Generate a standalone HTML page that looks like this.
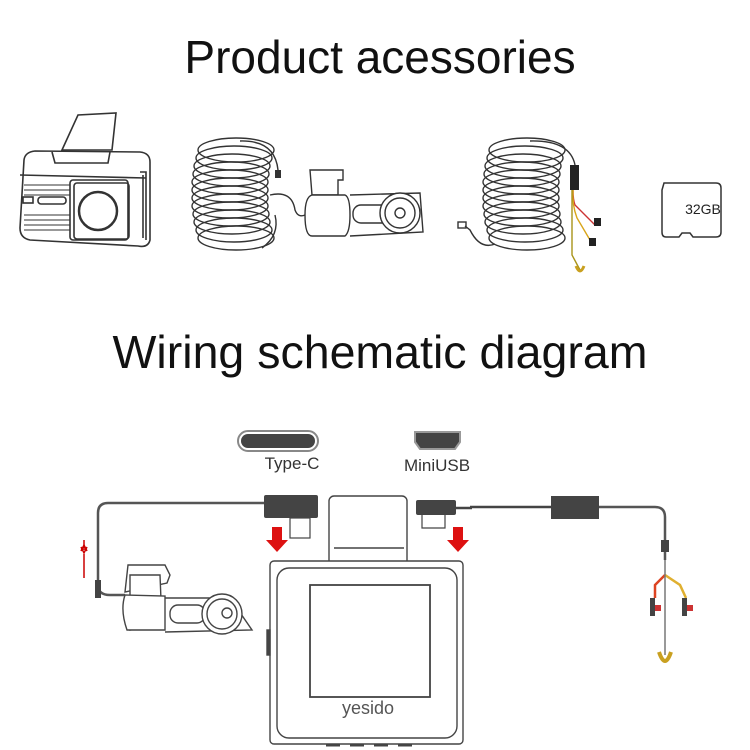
<!DOCTYPE html>
<html><head><meta charset="utf-8"><style>
html,body{margin:0;padding:0;background:#fff;}
svg{display:block}
</style></head><body>
<svg width="750" height="750" viewBox="0 0 750 750" xmlns="http://www.w3.org/2000/svg" font-family="Liberation Sans, sans-serif">
<rect width="750" height="750" fill="#fff"/>
<text x="380" y="73" font-size="46" text-anchor="middle" fill="#111">Product acessories</text>
<text x="380" y="368" font-size="46.5" text-anchor="middle" fill="#111">Wiring schematic diagram</text>

<!-- Dash cam top-left -->
<g fill="none" stroke="#333" stroke-width="1.6">
<path d="M62 150 L78 115 L116 113 L112 150 Z" fill="#fff"/>
<path d="M24 160 Q25 152 35 151 L140 152 Q150 153 150 162 L150 240 Q148 248 138 246 L30 240 Q20 238 20 228 Z" fill="#fff"/>
<path d="M52 152 L55 163 L108 163 L110 152"/>
<path d="M20 175 L146 178"/>
<rect x="70" y="180" width="58" height="60" rx="3"/>
<rect x="74" y="183" width="55" height="56" rx="3"/>
<circle cx="98" cy="211" r="19" stroke-width="2.5"/>
<path d="M24 185 H70 M24 190 H70 M24 195 H70 M24 215 H70 M24 220 H70 M24 225 H70 M24 230 H70" stroke-width="1"/>
<rect x="23" y="197" width="10" height="6"/><rect x="38" y="197" width="28" height="7" rx="3"/>
<path d="M140 172 L146 172 L146 240 M143 175 V238"/>
</g>

<!-- coil 1 -->
<g fill="none" stroke="#333" stroke-width="1.4">
<ellipse cx="236" cy="150" rx="38" ry="12"/><ellipse cx="234" cy="158" rx="38" ry="12"/><ellipse cx="232" cy="166" rx="38" ry="12"/><ellipse cx="231" cy="174" rx="38" ry="12"/><ellipse cx="230" cy="182" rx="38" ry="12"/><ellipse cx="230" cy="190" rx="38" ry="12"/><ellipse cx="230" cy="198" rx="38" ry="12"/><ellipse cx="230" cy="206" rx="38" ry="12"/><ellipse cx="231" cy="214" rx="38" ry="12"/><ellipse cx="232" cy="222" rx="38" ry="12"/><ellipse cx="234" cy="230" rx="38" ry="12"/><ellipse cx="236" cy="238" rx="38" ry="12"/>
<path d="M240 141 Q275 140 278 170 L278 172"/>
<path d="M270 195 Q292 190 295 210 Q298 218 305 215"/>
<path d="M275 215 Q280 235 262 248"/>
</g>
<rect x="275" y="170" width="6" height="8" fill="#333"/>
<!-- rear cam 1 -->
<g fill="none" stroke="#333" stroke-width="1.4">
<path d="M310 170 L343 170 L343 180 L338 180 L338 195 L312 195 Z" fill="#fff"/>
<path d="M312 195 Q305 197 305 215 Q305 236 312 236 L345 236 Q350 232 350 215 Q350 197 345 195 Z" fill="#fff"/>
<path d="M350 195 L420 193 L423 232 L350 236"/>
<rect x="353" y="205" width="40" height="18" rx="8"/>
<circle cx="400" cy="213" r="20" fill="#fff"/>
<circle cx="400" cy="213" r="15"/>
<circle cx="400" cy="213" r="5"/>
</g>

<!-- coil 2 -->
<g fill="none" stroke="#333" stroke-width="1.4">
<ellipse cx="527" cy="150" rx="38" ry="12"/><ellipse cx="525" cy="158" rx="38" ry="12"/><ellipse cx="523" cy="166" rx="38" ry="12"/><ellipse cx="522" cy="174" rx="38" ry="12"/><ellipse cx="521" cy="182" rx="38" ry="12"/><ellipse cx="521" cy="190" rx="38" ry="12"/><ellipse cx="521" cy="198" rx="38" ry="12"/><ellipse cx="521" cy="206" rx="38" ry="12"/><ellipse cx="522" cy="214" rx="38" ry="12"/><ellipse cx="523" cy="222" rx="38" ry="12"/><ellipse cx="525" cy="230" rx="38" ry="12"/><ellipse cx="527" cy="238" rx="38" ry="12"/>
<path d="M530 141 Q570 140 575 165"/>
<path d="M495 244 Q480 250 470 230 L465 226"/>
<rect x="458" y="222" width="8" height="6"/>
<path d="M573 190 Q573 200 575 205 L590 220 L595 225" stroke="#c33"/>
<path d="M573 190 Q572 205 577 218 L590 240" stroke="#d9a51a"/>
<path d="M572 190 L572 255 L580 270" stroke="#a8931a"/>
</g>
<rect x="570" y="165" width="9" height="25" fill="#222"/>
<rect x="594" y="218" width="7" height="8" fill="#222"/><rect x="589" y="238" width="7" height="8" fill="#222"/>
<path d="M576 266 Q580 276 584 266" fill="none" stroke="#c9a020" stroke-width="3"/>

<!-- SD card -->
<path d="M664 183 L716 183 Q721 183 721 188 L721 232 Q721 237 716 237 L693 237 L690 233 L682 233 L679 237 L666 237 Q662 237 662 232 L662 190 Z" fill="#fff" stroke="#333" stroke-width="1.5"/>
<text x="703" y="214" font-size="14" text-anchor="middle" fill="#222">32GB</text>

<!-- Wiring: port icons -->
<rect x="238" y="431" width="80" height="20" rx="10" fill="#fff" stroke="#888" stroke-width="2"/>
<rect x="241" y="434" width="74" height="14" rx="7" fill="#444"/>
<path d="M415 432 L460 432 L460 442 L455 449 L420 449 L415 442 Z" fill="#444" stroke="#999" stroke-width="2"/>
<text x="292" y="469" font-size="17" text-anchor="middle" fill="#333">Type-C</text>
<text x="437" y="471" font-size="17" text-anchor="middle" fill="#333">MiniUSB</text>

<!-- left cable -->
<path d="M265 503 L108 503 Q98 503 98 513 L98 585 Q98 595 110 595 L125 595" fill="none" stroke="#555" stroke-width="2.5"/>
<rect x="95" y="580" width="6" height="18" fill="#444"/>
<rect x="264" y="495" width="54" height="23" rx="2" fill="#444"/>
<rect x="290" y="518" width="20" height="20" fill="#fff" stroke="#444" stroke-width="1.2"/>
<path d="M84 572 V554 M81 551 L84 545 L87 551 M84 562 V578" stroke="#c00" stroke-width="1.5" fill="none"/>
<path d="M84 540 V550 M81 547 L84 553 L87 547" stroke="#c00" stroke-width="1.5" fill="none"/>

<!-- red arrows -->
<path d="M272 527 H282 V540 H288 L277 552 L266 540 H272 Z" fill="#d11"/>
<path d="M453 527 H463 V540 H469 L458 552 L447 540 H453 Z" fill="#d11"/>

<!-- main camera -->
<g fill="none" stroke="#444" stroke-width="1.4">
<rect x="329" y="496" width="78" height="80" rx="5" fill="#fff"/>
<path d="M334 548 H404"/>
<rect x="270" y="561" width="193" height="183" rx="4" fill="#fff"/>
<rect x="277" y="568" width="180" height="170" rx="12"/>
<rect x="310" y="585" width="120" height="112" stroke-width="1.8"/>
<path d="M326 745 H340 M350 745 H364 M374 745 H388 M398 745 H412" stroke-width="3"/>
<rect x="267" y="630" width="3" height="25" fill="#444"/>
</g>
<text x="368" y="714" font-size="18" text-anchor="middle" fill="#555">yesido</text>

<!-- rear cam -->
<g fill="none" stroke="#444" stroke-width="1.4">
<path d="M125 592 L128 565 L165 565 L170 575 L167 583 Z" fill="#fff"/>
<path d="M130 575 L160 575 L162 625 L130 630 Z" fill="#fff"/>
<path d="M125 595 Q120 610 127 630 L165 630 L165 596 Z" fill="#fff"/>
<path d="M165 598 L230 598 L252 630 L165 632"/>
<rect x="170" y="605" width="35" height="18" rx="8"/>
<circle cx="222" cy="614" r="20" fill="#fff"/>
<circle cx="222" cy="614" r="15"/>
<circle cx="227" cy="613" r="5"/>
</g>

<!-- right cable -->
<rect x="416" y="500" width="40" height="15" rx="2" fill="#444"/>
<path d="M422 515 L422 528 L445 528 L445 515" fill="#fff" stroke="#444" stroke-width="1.2"/>
<path d="M455 508 L472 508 M470 507 L552 507" fill="none" stroke="#444" stroke-width="2.5"/>
<rect x="551" y="496" width="48" height="23" fill="#444"/>
<path d="M599 507 L655 507 Q665 507 665 517 L665 560" fill="none" stroke="#555" stroke-width="2.5"/>
<rect x="661" y="540" width="8" height="12" fill="#444"/>
<path d="M665 575 L655 585 L655 598" fill="none" stroke="#d42" stroke-width="2.5"/>
<path d="M665 575 L680 585 L686 598" fill="none" stroke="#e0b030" stroke-width="2.5"/>
<path d="M665 560 L665 655" fill="none" stroke="#777" stroke-width="1.5"/>
<rect x="650" y="598" width="5" height="18" fill="#444"/><rect x="655" y="605" width="6" height="6" fill="#c33"/>
<rect x="682" y="598" width="5" height="18" fill="#444"/><rect x="687" y="605" width="6" height="6" fill="#c33"/>
<path d="M659 652 Q665 670 671 652" fill="none" stroke="#c9a020" stroke-width="4"/>
</svg>
</body></html>
